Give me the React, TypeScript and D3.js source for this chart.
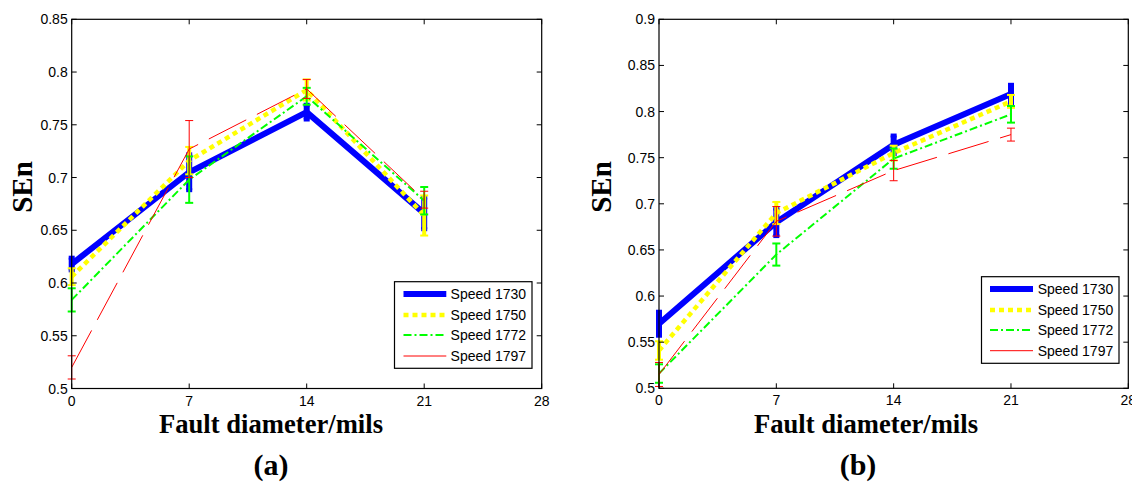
import React from "react";
import * as d3 from "d3";

// ---------- data ----------
const faultDiameters = [0, 7, 14, 21];
const xTickValues = [0, 7, 14, 21, 28];
const speedLabels = ["Speed 1730", "Speed 1750", "Speed 1772", "Speed 1797"];

// panel (a)
const a1730 = [0.618, 0.705, 0.762, 0.666];
const a1730Err = [0.006, 0.017, 0.007, 0.015];
const a1750 = [0.606, 0.716, 0.783, 0.664];
const a1750Err = [0.008, 0.013, 0.01, 0.019];
const a1772 = [0.584, 0.698, 0.777, 0.678];
const a1772Err = [0.011, 0.022, 0.008, 0.013];
const a1797 = [0.52, 0.727, 0.784, 0.679];
const a1797Err = [0.011, 0.027, 0.009, 0.008];
const aYTicks = [0.5, 0.55, 0.6, 0.65, 0.7, 0.75, 0.8, 0.85];
const aYTickLabels = ["0.5", "0.55", "0.6", "0.65", "0.7", "0.75", "0.8", "0.85"];

// panel (b)
const b1730 = [0.57, 0.68, 0.764, 0.819];
const b1730Err = [0.013, 0.015, 0.01, 0.01];
const b1750 = [0.541, 0.69, 0.755, 0.811];
const b1750Err = [0.01, 0.012, 0.008, 0.007];
const b1772 = [0.516, 0.645, 0.749, 0.797];
const b1772Err = [0.01, 0.012, 0.011, 0.009];
const b1797 = [0.515, 0.681, 0.736, 0.775];
const b1797Err = [0.013, 0.016, 0.011, 0.007];
const bYTicks = [0.5, 0.55, 0.6, 0.65, 0.7, 0.75, 0.8, 0.85, 0.9];
const bYTickLabels = ["0.5", "0.55", "0.6", "0.65", "0.7", "0.75", "0.8", "0.85", "0.9"];

// ---------- styles ----------
const seriesStyles = [
  { color: "#0000ff", width: 6, dash: "none", cap: 4 },
  { color: "#ffff00", width: 4.5, dash: "5 4", cap: 4 },
  { color: "#00ff00", width: 2, dash: "8 3 2 3", cap: 4 },
  { color: "#ff0000", width: 1, dash: "42 12", cap: 4 },
];

const SANS = "'Liberation Sans', Arial, Helvetica, sans-serif";
const SERIF = "'Liberation Serif', 'Times New Roman', Times, serif";

type PanelProps = {
  left: number;
  right: number;
  top: number;
  bottom: number;
  yDomain: [number, number];
  yTicks: number[];
  yTickLabels: string[];
  series: number[][];
  errors: number[][];
  legend: { x0: number; x1: number; y0: number; y1: number; rows: number[]; l0: number; l1: number; tx: number };
  yLabelX: number;
  yLabelY: number;
  xLabelX: number;
  tag: string;
  tagX: number;
};

function Panel(p: PanelProps) {
  const x = d3.scaleLinear().domain([0, 28]).range([p.left, p.right]);
  const y = d3.scaleLinear().domain(p.yDomain).range([p.bottom, p.top]);
  const line = d3
    .line<[number, number]>()
    .x((d) => x(d[0]))
    .y((d) => y(d[1]));
  const tick = 5;
  return (
    <g>
      {p.series.map((vals, si) => {
        const st = seriesStyles[si];
        const pts = faultDiameters.map((fd, i) => [fd, vals[i]] as [number, number]);
        return (
          <g key={si}>
            <path
              d={line(pts) || ""}
              fill="none"
              stroke={st.color}
              strokeWidth={st.width}
              strokeDasharray={st.dash}
              strokeLinejoin="miter"
            />
            {faultDiameters.map((fd, i) => {
              const cx = x(fd);
              const yt = y(vals[i] + p.errors[si][i]);
              const yb = y(vals[i] - p.errors[si][i]);
              const w = si === 0 ? 3 : st.cap;
              return (
                <g key={i} stroke={st.color} strokeWidth={si === 0 ? 4 : Math.min(st.width, 2)}>
                  <line x1={cx} x2={cx} y1={yt} y2={yb} strokeWidth={si === 0 ? 6 : si === 1 ? 4 : st.width} />
                  <line x1={cx - w} x2={cx + w} y1={yt} y2={yt} />
                  <line x1={cx - w} x2={cx + w} y1={yb} y2={yb} />
                </g>
              );
            })}
          </g>
        );
      })}

      <rect x={p.left} y={p.top} width={p.right - p.left} height={p.bottom - p.top} fill="none" stroke="#000" strokeWidth={1.2} />
      {xTickValues.map((v) => (
        <g key={"xt" + v}>
          <line x1={x(v)} x2={x(v)} y1={p.bottom} y2={p.bottom - tick} stroke="#000" />
          <line x1={x(v)} x2={x(v)} y1={p.top} y2={p.top + tick} stroke="#000" />
          <text x={x(v)} y={p.bottom + 17} fontFamily={SANS} fontSize={14} textAnchor="middle" fill="#000">
            {v}
          </text>
        </g>
      ))}
      {p.yTicks.map((v, i) => (
        <g key={"yt" + v}>
          <line x1={p.left} x2={p.left + tick} y1={y(v)} y2={y(v)} stroke="#000" />
          <line x1={p.right} x2={p.right - tick} y1={y(v)} y2={y(v)} stroke="#000" />
          <text x={p.left - 4} y={y(v) + 5} fontFamily={SANS} fontSize={14} textAnchor="end" fill="#000">
            {p.yTickLabels[i]}
          </text>
        </g>
      ))}

      <rect
        x={p.legend.x0}
        y={p.legend.y0}
        width={p.legend.x1 - p.legend.x0}
        height={p.legend.y1 - p.legend.y0}
        fill="#fff"
        stroke="#000"
        strokeWidth={1.2}
      />
      {speedLabels.map((lab, i) => {
        const st = seriesStyles[i];
        const ry = p.legend.rows[i];
        return (
          <g key={lab}>
            <line
              x1={p.legend.l0}
              x2={p.legend.l1}
              y1={ry}
              y2={ry}
              stroke={st.color}
              strokeWidth={st.width}
              strokeDasharray={i === 3 ? "none" : st.dash}
            />
            <text x={p.legend.tx} y={ry + 5} fontFamily={SANS} fontSize={14} fill="#000">
              {lab}
            </text>
          </g>
        );
      })}

      <text
        transform={`translate(${p.yLabelX},${p.yLabelY}) rotate(-90)`}
        fontFamily={SERIF}
        fontWeight="bold"
        fontSize={29}
        textAnchor="middle"
        fill="#000"
      >
        SEn
      </text>
      <text
        x={p.xLabelX}
        y={433}
        fontFamily={SERIF}
        fontWeight="bold"
        fontSize={28}
        textAnchor="middle"
        textLength={224}
        lengthAdjust="spacingAndGlyphs"
        fill="#000"
      >
        Fault diameter/mils
      </text>
      <text x={p.tagX} y={475} fontFamily={SERIF} fontWeight="bold" fontSize={30} textAnchor="middle" fill="#000">
        {p.tag}
      </text>
    </g>
  );
}

export default function App() {
  return (
    <svg
      width={1132}
      height={482}
      viewBox="0 0 1132 482"
      style={{ position: "absolute", left: 0, top: 0, background: "#fff" }}
    >
      <rect x={0} y={0} width={1132} height={482} fill="#fff" />
      <Panel
        left={71.7}
        right={541.7}
        top={19.3}
        bottom={388.5}
        yDomain={[0.5, 0.85]}
        yTicks={aYTicks}
        yTickLabels={aYTickLabels}
        series={[a1730, a1750, a1772, a1797]}
        errors={[a1730Err, a1750Err, a1772Err, a1797Err]}
        legend={{ x0: 394.5, x1: 532, y0: 281.7, y1: 368.3, rows: [294, 315, 335, 356], l0: 403.5, l1: 446.3, tx: 450.6 }}
        yLabelX={32}
        yLabelY={187}
        xLabelX={271}
        tag="(a)"
        tagX={271}
      />
      <Panel
        left={659}
        right={1128.3}
        top={19.3}
        bottom={388.3}
        yDomain={[0.5, 0.9]}
        yTicks={bYTicks}
        yTickLabels={bYTickLabels}
        series={[b1730, b1750, b1772, b1797]}
        errors={[b1730Err, b1750Err, b1772Err, b1797Err]}
        legend={{ x0: 981.5, x1: 1119, y0: 276.7, y1: 363.3, rows: [289, 310, 330, 350.7], l0: 990, l1: 1033, tx: 1037.7 }}
        yLabelX={611}
        yLabelY={187}
        xLabelX={866}
        tag="(b)"
        tagX={858}
      />
    </svg>
  );
}
